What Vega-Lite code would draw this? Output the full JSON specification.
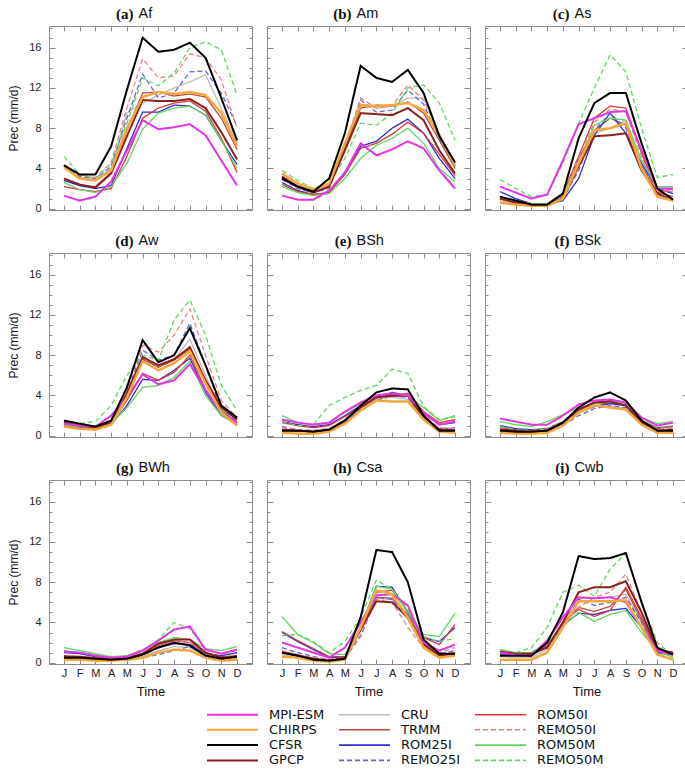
{
"$schema":"https://vega.github.io/schema/vega-lite/v6.json",
"background":"white",
"padding":{"left":7,"top":4,"right":0,"bottom":0},
"autosize":{"type":"pad"},
"config":{
 "view":{"stroke":"#8c8c8c","strokeWidth":1},
 "axis":{"domain":false,"grid":false,"tickColor":"#8c8c8c","tickWidth":1,"labelFont":"Liberation Sans","labelFontSize":11,"labelColor":"#222","titleFont":"Liberation Sans","titleFontSize":12,"titleFontWeight":"normal","titleColor":"#111"}
},
"datasets":{
"Af":[
{"s":"CRU","m":1,"v":4.2},{"s":"CRU","m":2,"v":3.1},{"s":"CRU","m":3,"v":2.9},{"s":"CRU","m":4,"v":4.0},{"s":"CRU","m":5,"v":9.5},{"s":"CRU","m":6,"v":10.5},{"s":"CRU","m":7,"v":11.3},{"s":"CRU","m":8,"v":12.0},{"s":"CRU","m":9,"v":12.6},{"s":"CRU","m":10,"v":13.3},{"s":"CRU","m":11,"v":10.0},{"s":"CRU","m":12,"v":6.5},
{"s":"TRMM","m":1,"v":3.0},{"s":"TRMM","m":2,"v":2.3},{"s":"TRMM","m":3,"v":2.2},{"s":"TRMM","m":4,"v":3.6},{"s":"TRMM","m":5,"v":7.8},{"s":"TRMM","m":6,"v":11.5},{"s":"TRMM","m":7,"v":11.6},{"s":"TRMM","m":8,"v":11.2},{"s":"TRMM","m":9,"v":11.4},{"s":"TRMM","m":10,"v":11.1},{"s":"TRMM","m":11,"v":9.0},{"s":"TRMM","m":12,"v":5.9},
{"s":"ROM25I","m":1,"v":2.8},{"s":"ROM25I","m":2,"v":2.3},{"s":"ROM25I","m":3,"v":2.0},{"s":"ROM25I","m":4,"v":2.3},{"s":"ROM25I","m":5,"v":6.0},{"s":"ROM25I","m":6,"v":9.6},{"s":"ROM25I","m":7,"v":9.6},{"s":"ROM25I","m":8,"v":10.3},{"s":"ROM25I","m":9,"v":10.2},{"s":"ROM25I","m":10,"v":9.3},{"s":"ROM25I","m":11,"v":6.8},{"s":"ROM25I","m":12,"v":4.4},
{"s":"REMO25I","m":1,"v":4.3},{"s":"REMO25I","m":2,"v":3.2},{"s":"REMO25I","m":3,"v":3.0},{"s":"REMO25I","m":4,"v":4.2},{"s":"REMO25I","m":5,"v":9.0},{"s":"REMO25I","m":6,"v":13.4},{"s":"REMO25I","m":7,"v":11.0},{"s":"REMO25I","m":8,"v":11.5},{"s":"REMO25I","m":9,"v":13.6},{"s":"REMO25I","m":10,"v":13.7},{"s":"REMO25I","m":11,"v":11.5},{"s":"REMO25I","m":12,"v":8.2},
{"s":"ROM50I","m":1,"v":2.2},{"s":"ROM50I","m":2,"v":1.9},{"s":"ROM50I","m":3,"v":1.7},{"s":"ROM50I","m":4,"v":2.0},{"s":"ROM50I","m":5,"v":5.2},{"s":"ROM50I","m":6,"v":9.0},{"s":"ROM50I","m":7,"v":10.0},{"s":"ROM50I","m":8,"v":10.5},{"s":"ROM50I","m":9,"v":10.7},{"s":"ROM50I","m":10,"v":9.7},{"s":"ROM50I","m":11,"v":7.0},{"s":"ROM50I","m":12,"v":3.6},
{"s":"REMO50I","m":1,"v":4.4},{"s":"REMO50I","m":2,"v":3.3},{"s":"REMO50I","m":3,"v":3.1},{"s":"REMO50I","m":4,"v":4.6},{"s":"REMO50I","m":5,"v":10.0},{"s":"REMO50I","m":6,"v":14.9},{"s":"REMO50I","m":7,"v":13.0},{"s":"REMO50I","m":8,"v":13.2},{"s":"REMO50I","m":9,"v":15.4},{"s":"REMO50I","m":10,"v":15.0},{"s":"REMO50I","m":11,"v":12.8},{"s":"REMO50I","m":12,"v":8.0},
{"s":"ROM50M","m":1,"v":2.6},{"s":"ROM50M","m":2,"v":1.9},{"s":"ROM50M","m":3,"v":1.6},{"s":"ROM50M","m":4,"v":2.2},{"s":"ROM50M","m":5,"v":4.5},{"s":"ROM50M","m":6,"v":7.9},{"s":"ROM50M","m":7,"v":9.5},{"s":"ROM50M","m":8,"v":10.0},{"s":"ROM50M","m":9,"v":10.2},{"s":"ROM50M","m":10,"v":9.3},{"s":"ROM50M","m":11,"v":6.8},{"s":"ROM50M","m":12,"v":4.0},
{"s":"REMO50M","m":1,"v":5.2},{"s":"REMO50M","m":2,"v":3.4},{"s":"REMO50M","m":3,"v":3.0},{"s":"REMO50M","m":4,"v":4.5},{"s":"REMO50M","m":5,"v":8.5},{"s":"REMO50M","m":6,"v":13.0},{"s":"REMO50M","m":7,"v":12.2},{"s":"REMO50M","m":8,"v":13.5},{"s":"REMO50M","m":9,"v":16.0},{"s":"REMO50M","m":10,"v":16.6},{"s":"REMO50M","m":11,"v":15.8},{"s":"REMO50M","m":12,"v":11.3},
{"s":"GPCP","m":1,"v":3.0},{"s":"GPCP","m":2,"v":2.4},{"s":"GPCP","m":3,"v":2.1},{"s":"GPCP","m":4,"v":3.5},{"s":"GPCP","m":5,"v":7.2},{"s":"GPCP","m":6,"v":10.8},{"s":"GPCP","m":7,"v":10.7},{"s":"GPCP","m":8,"v":10.7},{"s":"GPCP","m":9,"v":10.9},{"s":"GPCP","m":10,"v":10.0},{"s":"GPCP","m":11,"v":7.6},{"s":"GPCP","m":12,"v":4.9},
{"s":"MPI-ESM","m":1,"v":1.3},{"s":"MPI-ESM","m":2,"v":0.8},{"s":"MPI-ESM","m":3,"v":1.2},{"s":"MPI-ESM","m":4,"v":2.7},{"s":"MPI-ESM","m":5,"v":5.8},{"s":"MPI-ESM","m":6,"v":8.8},{"s":"MPI-ESM","m":7,"v":7.9},{"s":"MPI-ESM","m":8,"v":8.1},{"s":"MPI-ESM","m":9,"v":8.4},{"s":"MPI-ESM","m":10,"v":7.3},{"s":"MPI-ESM","m":11,"v":4.8},{"s":"MPI-ESM","m":12,"v":2.3},
{"s":"CHIRPS","m":1,"v":4.1},{"s":"CHIRPS","m":2,"v":3.0},{"s":"CHIRPS","m":3,"v":2.8},{"s":"CHIRPS","m":4,"v":3.8},{"s":"CHIRPS","m":5,"v":8.0},{"s":"CHIRPS","m":6,"v":11.1},{"s":"CHIRPS","m":7,"v":11.6},{"s":"CHIRPS","m":8,"v":11.4},{"s":"CHIRPS","m":9,"v":11.6},{"s":"CHIRPS","m":10,"v":11.3},{"s":"CHIRPS","m":11,"v":9.5},{"s":"CHIRPS","m":12,"v":6.2},
{"s":"CFSR","m":1,"v":4.3},{"s":"CFSR","m":2,"v":3.4},{"s":"CFSR","m":3,"v":3.4},{"s":"CFSR","m":4,"v":6.2},{"s":"CFSR","m":5,"v":11.8},{"s":"CFSR","m":6,"v":17.0},{"s":"CFSR","m":7,"v":15.6},{"s":"CFSR","m":8,"v":15.8},{"s":"CFSR","m":9,"v":16.5},{"s":"CFSR","m":10,"v":15.0},{"s":"CFSR","m":11,"v":11.0},{"s":"CFSR","m":12,"v":6.8}
],
"Am":[
{"s":"CRU","m":1,"v":3.2},{"s":"CRU","m":2,"v":2.3},{"s":"CRU","m":3,"v":1.8},{"s":"CRU","m":4,"v":2.4},{"s":"CRU","m":5,"v":6.4},{"s":"CRU","m":6,"v":10.4},{"s":"CRU","m":7,"v":10.0},{"s":"CRU","m":8,"v":10.2},{"s":"CRU","m":9,"v":11.0},{"s":"CRU","m":10,"v":11.0},{"s":"CRU","m":11,"v":7.5},{"s":"CRU","m":12,"v":4.2},
{"s":"TRMM","m":1,"v":3.0},{"s":"TRMM","m":2,"v":2.1},{"s":"TRMM","m":3,"v":1.6},{"s":"TRMM","m":4,"v":2.2},{"s":"TRMM","m":5,"v":6.0},{"s":"TRMM","m":6,"v":10.0},{"s":"TRMM","m":7,"v":10.3},{"s":"TRMM","m":8,"v":10.2},{"s":"TRMM","m":9,"v":10.6},{"s":"TRMM","m":10,"v":9.5},{"s":"TRMM","m":11,"v":6.8},{"s":"TRMM","m":12,"v":4.0},
{"s":"ROM25I","m":1,"v":2.6},{"s":"ROM25I","m":2,"v":1.8},{"s":"ROM25I","m":3,"v":1.4},{"s":"ROM25I","m":4,"v":1.6},{"s":"ROM25I","m":5,"v":3.6},{"s":"ROM25I","m":6,"v":6.2},{"s":"ROM25I","m":7,"v":6.7},{"s":"ROM25I","m":8,"v":8.0},{"s":"ROM25I","m":9,"v":8.9},{"s":"ROM25I","m":10,"v":7.5},{"s":"ROM25I","m":11,"v":5.0},{"s":"ROM25I","m":12,"v":3.0},
{"s":"REMO25I","m":1,"v":2.9},{"s":"REMO25I","m":2,"v":2.0},{"s":"REMO25I","m":3,"v":1.6},{"s":"REMO25I","m":4,"v":2.0},{"s":"REMO25I","m":5,"v":6.0},{"s":"REMO25I","m":6,"v":10.8},{"s":"REMO25I","m":7,"v":9.6},{"s":"REMO25I","m":8,"v":9.8},{"s":"REMO25I","m":9,"v":11.8},{"s":"REMO25I","m":10,"v":10.4},{"s":"REMO25I","m":11,"v":7.0},{"s":"REMO25I","m":12,"v":4.2},
{"s":"ROM50I","m":1,"v":2.4},{"s":"ROM50I","m":2,"v":1.7},{"s":"ROM50I","m":3,"v":1.4},{"s":"ROM50I","m":4,"v":1.6},{"s":"ROM50I","m":5,"v":3.4},{"s":"ROM50I","m":6,"v":6.0},{"s":"ROM50I","m":7,"v":6.5},{"s":"ROM50I","m":8,"v":7.4},{"s":"ROM50I","m":9,"v":8.6},{"s":"ROM50I","m":10,"v":7.5},{"s":"ROM50I","m":11,"v":5.4},{"s":"ROM50I","m":12,"v":3.3},
{"s":"REMO50I","m":1,"v":3.0},{"s":"REMO50I","m":2,"v":2.1},{"s":"REMO50I","m":3,"v":1.7},{"s":"REMO50I","m":4,"v":2.2},{"s":"REMO50I","m":5,"v":6.3},{"s":"REMO50I","m":6,"v":11.0},{"s":"REMO50I","m":7,"v":10.0},{"s":"REMO50I","m":8,"v":10.2},{"s":"REMO50I","m":9,"v":12.3},{"s":"REMO50I","m":10,"v":10.8},{"s":"REMO50I","m":11,"v":7.4},{"s":"REMO50I","m":12,"v":4.4},
{"s":"ROM50M","m":1,"v":2.2},{"s":"ROM50M","m":2,"v":1.6},{"s":"ROM50M","m":3,"v":1.3},{"s":"ROM50M","m":4,"v":1.5},{"s":"ROM50M","m":5,"v":3.0},{"s":"ROM50M","m":6,"v":5.0},{"s":"ROM50M","m":7,"v":6.3},{"s":"ROM50M","m":8,"v":7.0},{"s":"ROM50M","m":9,"v":8.0},{"s":"ROM50M","m":10,"v":6.5},{"s":"ROM50M","m":11,"v":4.0},{"s":"ROM50M","m":12,"v":2.7},
{"s":"REMO50M","m":1,"v":3.8},{"s":"REMO50M","m":2,"v":2.8},{"s":"REMO50M","m":3,"v":2.0},{"s":"REMO50M","m":4,"v":2.5},{"s":"REMO50M","m":5,"v":5.0},{"s":"REMO50M","m":6,"v":8.5},{"s":"REMO50M","m":7,"v":8.3},{"s":"REMO50M","m":8,"v":9.5},{"s":"REMO50M","m":9,"v":12.0},{"s":"REMO50M","m":10,"v":12.3},{"s":"REMO50M","m":11,"v":10.5},{"s":"REMO50M","m":12,"v":6.8},
{"s":"GPCP","m":1,"v":3.2},{"s":"GPCP","m":2,"v":2.2},{"s":"GPCP","m":3,"v":1.6},{"s":"GPCP","m":4,"v":2.2},{"s":"GPCP","m":5,"v":5.8},{"s":"GPCP","m":6,"v":9.5},{"s":"GPCP","m":7,"v":9.4},{"s":"GPCP","m":8,"v":9.3},{"s":"GPCP","m":9,"v":10.0},{"s":"GPCP","m":10,"v":8.8},{"s":"GPCP","m":11,"v":5.8},{"s":"GPCP","m":12,"v":3.5},
{"s":"MPI-ESM","m":1,"v":1.3},{"s":"MPI-ESM","m":2,"v":0.9},{"s":"MPI-ESM","m":3,"v":0.9},{"s":"MPI-ESM","m":4,"v":1.8},{"s":"MPI-ESM","m":5,"v":3.6},{"s":"MPI-ESM","m":6,"v":6.5},{"s":"MPI-ESM","m":7,"v":5.3},{"s":"MPI-ESM","m":8,"v":5.9},{"s":"MPI-ESM","m":9,"v":6.7},{"s":"MPI-ESM","m":10,"v":6.0},{"s":"MPI-ESM","m":11,"v":3.8},{"s":"MPI-ESM","m":12,"v":2.0},
{"s":"CHIRPS","m":1,"v":3.5},{"s":"CHIRPS","m":2,"v":2.5},{"s":"CHIRPS","m":3,"v":1.9},{"s":"CHIRPS","m":4,"v":2.5},{"s":"CHIRPS","m":5,"v":6.5},{"s":"CHIRPS","m":6,"v":10.3},{"s":"CHIRPS","m":7,"v":10.2},{"s":"CHIRPS","m":8,"v":10.3},{"s":"CHIRPS","m":9,"v":10.5},{"s":"CHIRPS","m":10,"v":9.8},{"s":"CHIRPS","m":11,"v":7.3},{"s":"CHIRPS","m":12,"v":4.3},
{"s":"CFSR","m":1,"v":3.0},{"s":"CFSR","m":2,"v":2.2},{"s":"CFSR","m":3,"v":1.7},{"s":"CFSR","m":4,"v":3.0},{"s":"CFSR","m":5,"v":7.5},{"s":"CFSR","m":6,"v":14.2},{"s":"CFSR","m":7,"v":13.0},{"s":"CFSR","m":8,"v":12.6},{"s":"CFSR","m":9,"v":13.8},{"s":"CFSR","m":10,"v":11.5},{"s":"CFSR","m":11,"v":7.2},{"s":"CFSR","m":12,"v":4.6}
],
"As":[
{"s":"CRU","m":1,"v":0.8},{"s":"CRU","m":2,"v":0.5},{"s":"CRU","m":3,"v":0.4},{"s":"CRU","m":4,"v":0.4},{"s":"CRU","m":5,"v":1.2},{"s":"CRU","m":6,"v":4.5},{"s":"CRU","m":7,"v":7.5},{"s":"CRU","m":8,"v":8.0},{"s":"CRU","m":9,"v":8.8},{"s":"CRU","m":10,"v":4.2},{"s":"CRU","m":11,"v":1.5},{"s":"CRU","m":12,"v":0.9},
{"s":"TRMM","m":1,"v":1.0},{"s":"TRMM","m":2,"v":0.6},{"s":"TRMM","m":3,"v":0.4},{"s":"TRMM","m":4,"v":0.4},{"s":"TRMM","m":5,"v":1.3},{"s":"TRMM","m":6,"v":5.0},{"s":"TRMM","m":7,"v":7.8},{"s":"TRMM","m":8,"v":9.0},{"s":"TRMM","m":9,"v":8.3},{"s":"TRMM","m":10,"v":4.2},{"s":"TRMM","m":11,"v":1.6},{"s":"TRMM","m":12,"v":1.2},
{"s":"ROM25I","m":1,"v":1.7},{"s":"ROM25I","m":2,"v":1.0},{"s":"ROM25I","m":3,"v":0.5},{"s":"ROM25I","m":4,"v":0.4},{"s":"ROM25I","m":5,"v":0.8},{"s":"ROM25I","m":6,"v":3.0},{"s":"ROM25I","m":7,"v":7.3},{"s":"ROM25I","m":8,"v":9.5},{"s":"ROM25I","m":9,"v":7.5},{"s":"ROM25I","m":10,"v":4.5},{"s":"ROM25I","m":11,"v":2.0},{"s":"ROM25I","m":12,"v":1.5},
{"s":"REMO25I","m":1,"v":1.2},{"s":"REMO25I","m":2,"v":0.8},{"s":"REMO25I","m":3,"v":0.5},{"s":"REMO25I","m":4,"v":0.4},{"s":"REMO25I","m":5,"v":1.0},{"s":"REMO25I","m":6,"v":3.8},{"s":"REMO25I","m":7,"v":7.8},{"s":"REMO25I","m":8,"v":9.5},{"s":"REMO25I","m":9,"v":8.0},{"s":"REMO25I","m":10,"v":4.3},{"s":"REMO25I","m":11,"v":2.0},{"s":"REMO25I","m":12,"v":1.6},
{"s":"ROM50I","m":1,"v":1.1},{"s":"ROM50I","m":2,"v":0.7},{"s":"ROM50I","m":3,"v":0.5},{"s":"ROM50I","m":4,"v":0.5},{"s":"ROM50I","m":5,"v":1.5},{"s":"ROM50I","m":6,"v":5.2},{"s":"ROM50I","m":7,"v":9.0},{"s":"ROM50I","m":8,"v":10.2},{"s":"ROM50I","m":9,"v":10.0},{"s":"ROM50I","m":10,"v":5.5},{"s":"ROM50I","m":11,"v":1.6},{"s":"ROM50I","m":12,"v":2.0},
{"s":"REMO50I","m":1,"v":1.0},{"s":"REMO50I","m":2,"v":0.7},{"s":"REMO50I","m":3,"v":0.5},{"s":"REMO50I","m":4,"v":0.5},{"s":"REMO50I","m":5,"v":1.5},{"s":"REMO50I","m":6,"v":5.0},{"s":"REMO50I","m":7,"v":8.6},{"s":"REMO50I","m":8,"v":9.9},{"s":"REMO50I","m":9,"v":9.6},{"s":"REMO50I","m":10,"v":5.2},{"s":"REMO50I","m":11,"v":1.7},{"s":"REMO50I","m":12,"v":1.8},
{"s":"ROM50M","m":1,"v":1.0},{"s":"ROM50M","m":2,"v":0.7},{"s":"ROM50M","m":3,"v":0.5},{"s":"ROM50M","m":4,"v":0.5},{"s":"ROM50M","m":5,"v":1.4},{"s":"ROM50M","m":6,"v":4.5},{"s":"ROM50M","m":7,"v":8.3},{"s":"ROM50M","m":8,"v":9.0},{"s":"ROM50M","m":9,"v":8.8},{"s":"ROM50M","m":10,"v":4.8},{"s":"ROM50M","m":11,"v":2.2},{"s":"ROM50M","m":12,"v":2.2},
{"s":"REMO50M","m":1,"v":2.9},{"s":"REMO50M","m":2,"v":2.0},{"s":"REMO50M","m":3,"v":1.2},{"s":"REMO50M","m":4,"v":1.4},{"s":"REMO50M","m":5,"v":4.5},{"s":"REMO50M","m":6,"v":8.5},{"s":"REMO50M","m":7,"v":12.0},{"s":"REMO50M","m":8,"v":15.3},{"s":"REMO50M","m":9,"v":13.6},{"s":"REMO50M","m":10,"v":8.0},{"s":"REMO50M","m":11,"v":3.1},{"s":"REMO50M","m":12,"v":3.4},
{"s":"GPCP","m":1,"v":1.0},{"s":"GPCP","m":2,"v":0.6},{"s":"GPCP","m":3,"v":0.4},{"s":"GPCP","m":4,"v":0.4},{"s":"GPCP","m":5,"v":1.0},{"s":"GPCP","m":6,"v":4.2},{"s":"GPCP","m":7,"v":7.2},{"s":"GPCP","m":8,"v":7.3},{"s":"GPCP","m":9,"v":7.5},{"s":"GPCP","m":10,"v":3.8},{"s":"GPCP","m":11,"v":1.5},{"s":"GPCP","m":12,"v":0.8},
{"s":"MPI-ESM","m":1,"v":2.2},{"s":"MPI-ESM","m":2,"v":1.6},{"s":"MPI-ESM","m":3,"v":1.0},{"s":"MPI-ESM","m":4,"v":1.4},{"s":"MPI-ESM","m":5,"v":4.8},{"s":"MPI-ESM","m":6,"v":8.4},{"s":"MPI-ESM","m":7,"v":9.0},{"s":"MPI-ESM","m":8,"v":9.6},{"s":"MPI-ESM","m":9,"v":9.7},{"s":"MPI-ESM","m":10,"v":5.8},{"s":"MPI-ESM","m":11,"v":2.0},{"s":"MPI-ESM","m":12,"v":2.0},
{"s":"CHIRPS","m":1,"v":0.6},{"s":"CHIRPS","m":2,"v":0.4},{"s":"CHIRPS","m":3,"v":0.3},{"s":"CHIRPS","m":4,"v":0.3},{"s":"CHIRPS","m":5,"v":1.0},{"s":"CHIRPS","m":6,"v":4.5},{"s":"CHIRPS","m":7,"v":7.8},{"s":"CHIRPS","m":8,"v":8.0},{"s":"CHIRPS","m":9,"v":8.5},{"s":"CHIRPS","m":10,"v":4.0},{"s":"CHIRPS","m":11,"v":1.2},{"s":"CHIRPS","m":12,"v":0.8},
{"s":"CFSR","m":1,"v":1.2},{"s":"CFSR","m":2,"v":0.8},{"s":"CFSR","m":3,"v":0.4},{"s":"CFSR","m":4,"v":0.4},{"s":"CFSR","m":5,"v":1.5},{"s":"CFSR","m":6,"v":7.0},{"s":"CFSR","m":7,"v":10.5},{"s":"CFSR","m":8,"v":11.5},{"s":"CFSR","m":9,"v":11.5},{"s":"CFSR","m":10,"v":6.5},{"s":"CFSR","m":11,"v":2.0},{"s":"CFSR","m":12,"v":0.9}
],
"Aw":[
{"s":"CRU","m":1,"v":1.1},{"s":"CRU","m":2,"v":0.9},{"s":"CRU","m":3,"v":0.8},{"s":"CRU","m":4,"v":1.2},{"s":"CRU","m":5,"v":4.2},{"s":"CRU","m":6,"v":8.0},{"s":"CRU","m":7,"v":6.8},{"s":"CRU","m":8,"v":7.6},{"s":"CRU","m":9,"v":9.6},{"s":"CRU","m":10,"v":6.0},{"s":"CRU","m":11,"v":2.5},{"s":"CRU","m":12,"v":1.3},
{"s":"TRMM","m":1,"v":1.1},{"s":"TRMM","m":2,"v":0.8},{"s":"TRMM","m":3,"v":0.7},{"s":"TRMM","m":4,"v":1.2},{"s":"TRMM","m":5,"v":4.0},{"s":"TRMM","m":6,"v":7.6},{"s":"TRMM","m":7,"v":6.8},{"s":"TRMM","m":8,"v":7.5},{"s":"TRMM","m":9,"v":8.6},{"s":"TRMM","m":10,"v":5.5},{"s":"TRMM","m":11,"v":2.5},{"s":"TRMM","m":12,"v":1.3},
{"s":"ROM25I","m":1,"v":1.0},{"s":"ROM25I","m":2,"v":0.8},{"s":"ROM25I","m":3,"v":0.7},{"s":"ROM25I","m":4,"v":1.1},{"s":"ROM25I","m":5,"v":3.0},{"s":"ROM25I","m":6,"v":5.6},{"s":"ROM25I","m":7,"v":5.5},{"s":"ROM25I","m":8,"v":6.5},{"s":"ROM25I","m":9,"v":7.7},{"s":"ROM25I","m":10,"v":4.3},{"s":"ROM25I","m":11,"v":2.0},{"s":"ROM25I","m":12,"v":1.2},
{"s":"REMO25I","m":1,"v":1.2},{"s":"REMO25I","m":2,"v":0.9},{"s":"REMO25I","m":3,"v":0.8},{"s":"REMO25I","m":4,"v":1.3},{"s":"REMO25I","m":5,"v":4.3},{"s":"REMO25I","m":6,"v":8.5},{"s":"REMO25I","m":7,"v":7.5},{"s":"REMO25I","m":8,"v":8.0},{"s":"REMO25I","m":9,"v":11.2},{"s":"REMO25I","m":10,"v":7.0},{"s":"REMO25I","m":11,"v":2.5},{"s":"REMO25I","m":12,"v":1.5},
{"s":"ROM50I","m":1,"v":1.1},{"s":"ROM50I","m":2,"v":0.9},{"s":"ROM50I","m":3,"v":0.8},{"s":"ROM50I","m":4,"v":1.2},{"s":"ROM50I","m":5,"v":3.5},{"s":"ROM50I","m":6,"v":6.2},{"s":"ROM50I","m":7,"v":5.5},{"s":"ROM50I","m":8,"v":6.3},{"s":"ROM50I","m":9,"v":8.0},{"s":"ROM50I","m":10,"v":4.6},{"s":"ROM50I","m":11,"v":2.2},{"s":"ROM50I","m":12,"v":1.3},
{"s":"REMO50I","m":1,"v":1.2},{"s":"REMO50I","m":2,"v":1.0},{"s":"REMO50I","m":3,"v":0.9},{"s":"REMO50I","m":4,"v":1.5},{"s":"REMO50I","m":5,"v":4.5},{"s":"REMO50I","m":6,"v":9.0},{"s":"REMO50I","m":7,"v":8.3},{"s":"REMO50I","m":8,"v":10.0},{"s":"REMO50I","m":9,"v":12.6},{"s":"REMO50I","m":10,"v":8.0},{"s":"REMO50I","m":11,"v":3.5},{"s":"REMO50I","m":12,"v":1.8},
{"s":"ROM50M","m":1,"v":1.1},{"s":"ROM50M","m":2,"v":0.9},{"s":"ROM50M","m":3,"v":0.8},{"s":"ROM50M","m":4,"v":1.2},{"s":"ROM50M","m":5,"v":2.8},{"s":"ROM50M","m":6,"v":4.8},{"s":"ROM50M","m":7,"v":5.0},{"s":"ROM50M","m":8,"v":5.8},{"s":"ROM50M","m":9,"v":7.4},{"s":"ROM50M","m":10,"v":4.0},{"s":"ROM50M","m":11,"v":2.0},{"s":"ROM50M","m":12,"v":1.2},
{"s":"REMO50M","m":1,"v":1.4},{"s":"REMO50M","m":2,"v":1.2},{"s":"REMO50M","m":3,"v":1.4},{"s":"REMO50M","m":4,"v":3.0},{"s":"REMO50M","m":5,"v":6.0},{"s":"REMO50M","m":6,"v":8.0},{"s":"REMO50M","m":7,"v":7.5},{"s":"REMO50M","m":8,"v":11.5},{"s":"REMO50M","m":9,"v":13.5},{"s":"REMO50M","m":10,"v":10.0},{"s":"REMO50M","m":11,"v":5.0},{"s":"REMO50M","m":12,"v":2.5},
{"s":"GPCP","m":1,"v":1.3},{"s":"GPCP","m":2,"v":1.0},{"s":"GPCP","m":3,"v":0.8},{"s":"GPCP","m":4,"v":1.3},{"s":"GPCP","m":5,"v":4.2},{"s":"GPCP","m":6,"v":7.8},{"s":"GPCP","m":7,"v":7.0},{"s":"GPCP","m":8,"v":7.6},{"s":"GPCP","m":9,"v":8.8},{"s":"GPCP","m":10,"v":5.5},{"s":"GPCP","m":11,"v":2.8},{"s":"GPCP","m":12,"v":1.6},
{"s":"MPI-ESM","m":1,"v":1.2},{"s":"MPI-ESM","m":2,"v":1.0},{"s":"MPI-ESM","m":3,"v":0.9},{"s":"MPI-ESM","m":4,"v":2.0},{"s":"MPI-ESM","m":5,"v":3.8},{"s":"MPI-ESM","m":6,"v":6.1},{"s":"MPI-ESM","m":7,"v":5.1},{"s":"MPI-ESM","m":8,"v":5.5},{"s":"MPI-ESM","m":9,"v":7.1},{"s":"MPI-ESM","m":10,"v":4.5},{"s":"MPI-ESM","m":11,"v":2.3},{"s":"MPI-ESM","m":12,"v":1.3},
{"s":"CHIRPS","m":1,"v":0.9},{"s":"CHIRPS","m":2,"v":0.7},{"s":"CHIRPS","m":3,"v":0.6},{"s":"CHIRPS","m":4,"v":1.1},{"s":"CHIRPS","m":5,"v":3.8},{"s":"CHIRPS","m":6,"v":7.4},{"s":"CHIRPS","m":7,"v":6.5},{"s":"CHIRPS","m":8,"v":7.2},{"s":"CHIRPS","m":9,"v":8.4},{"s":"CHIRPS","m":10,"v":5.2},{"s":"CHIRPS","m":11,"v":2.3},{"s":"CHIRPS","m":12,"v":1.0},
{"s":"CFSR","m":1,"v":1.5},{"s":"CFSR","m":2,"v":1.2},{"s":"CFSR","m":3,"v":0.9},{"s":"CFSR","m":4,"v":1.5},{"s":"CFSR","m":5,"v":4.8},{"s":"CFSR","m":6,"v":9.5},{"s":"CFSR","m":7,"v":7.3},{"s":"CFSR","m":8,"v":8.0},{"s":"CFSR","m":9,"v":10.7},{"s":"CFSR","m":10,"v":7.0},{"s":"CFSR","m":11,"v":3.0},{"s":"CFSR","m":12,"v":1.8}
],
"BSh":[
{"s":"CRU","m":1,"v":0.5},{"s":"CRU","m":2,"v":0.4},{"s":"CRU","m":3,"v":0.4},{"s":"CRU","m":4,"v":0.6},{"s":"CRU","m":5,"v":1.4},{"s":"CRU","m":6,"v":2.8},{"s":"CRU","m":7,"v":3.7},{"s":"CRU","m":8,"v":3.8},{"s":"CRU","m":9,"v":3.6},{"s":"CRU","m":10,"v":1.7},{"s":"CRU","m":11,"v":0.5},{"s":"CRU","m":12,"v":0.5},
{"s":"TRMM","m":1,"v":0.6},{"s":"TRMM","m":2,"v":0.5},{"s":"TRMM","m":3,"v":0.4},{"s":"TRMM","m":4,"v":0.6},{"s":"TRMM","m":5,"v":1.5},{"s":"TRMM","m":6,"v":2.8},{"s":"TRMM","m":7,"v":3.9},{"s":"TRMM","m":8,"v":3.9},{"s":"TRMM","m":9,"v":3.9},{"s":"TRMM","m":10,"v":1.9},{"s":"TRMM","m":11,"v":0.7},{"s":"TRMM","m":12,"v":0.6},
{"s":"ROM25I","m":1,"v":1.4},{"s":"ROM25I","m":2,"v":1.1},{"s":"ROM25I","m":3,"v":0.9},{"s":"ROM25I","m":4,"v":1.1},{"s":"ROM25I","m":5,"v":2.0},{"s":"ROM25I","m":6,"v":3.0},{"s":"ROM25I","m":7,"v":3.8},{"s":"ROM25I","m":8,"v":4.3},{"s":"ROM25I","m":9,"v":4.0},{"s":"ROM25I","m":10,"v":2.2},{"s":"ROM25I","m":11,"v":1.1},{"s":"ROM25I","m":12,"v":1.3},
{"s":"REMO25I","m":1,"v":0.9},{"s":"REMO25I","m":2,"v":0.6},{"s":"REMO25I","m":3,"v":0.5},{"s":"REMO25I","m":4,"v":0.7},{"s":"REMO25I","m":5,"v":1.4},{"s":"REMO25I","m":6,"v":2.6},{"s":"REMO25I","m":7,"v":3.5},{"s":"REMO25I","m":8,"v":4.0},{"s":"REMO25I","m":9,"v":3.8},{"s":"REMO25I","m":10,"v":1.8},{"s":"REMO25I","m":11,"v":0.7},{"s":"REMO25I","m":12,"v":0.8},
{"s":"ROM50I","m":1,"v":1.3},{"s":"ROM50I","m":2,"v":1.0},{"s":"ROM50I","m":3,"v":0.8},{"s":"ROM50I","m":4,"v":1.0},{"s":"ROM50I","m":5,"v":1.9},{"s":"ROM50I","m":6,"v":2.9},{"s":"ROM50I","m":7,"v":3.9},{"s":"ROM50I","m":8,"v":4.1},{"s":"ROM50I","m":9,"v":4.2},{"s":"ROM50I","m":10,"v":2.4},{"s":"ROM50I","m":11,"v":1.3},{"s":"ROM50I","m":12,"v":1.6},
{"s":"REMO50I","m":1,"v":0.8},{"s":"REMO50I","m":2,"v":0.6},{"s":"REMO50I","m":3,"v":0.5},{"s":"REMO50I","m":4,"v":0.7},{"s":"REMO50I","m":5,"v":1.6},{"s":"REMO50I","m":6,"v":2.8},{"s":"REMO50I","m":7,"v":3.8},{"s":"REMO50I","m":8,"v":4.1},{"s":"REMO50I","m":9,"v":4.2},{"s":"REMO50I","m":10,"v":2.0},{"s":"REMO50I","m":11,"v":0.8},{"s":"REMO50I","m":12,"v":0.7},
{"s":"ROM50M","m":1,"v":2.0},{"s":"ROM50M","m":2,"v":1.3},{"s":"ROM50M","m":3,"v":1.1},{"s":"ROM50M","m":4,"v":1.3},{"s":"ROM50M","m":5,"v":2.3},{"s":"ROM50M","m":6,"v":3.2},{"s":"ROM50M","m":7,"v":4.0},{"s":"ROM50M","m":8,"v":4.2},{"s":"ROM50M","m":9,"v":4.0},{"s":"ROM50M","m":10,"v":2.8},{"s":"ROM50M","m":11,"v":1.5},{"s":"ROM50M","m":12,"v":2.0},
{"s":"REMO50M","m":1,"v":1.4},{"s":"REMO50M","m":2,"v":1.0},{"s":"REMO50M","m":3,"v":1.1},{"s":"REMO50M","m":4,"v":3.0},{"s":"REMO50M","m":5,"v":3.8},{"s":"REMO50M","m":6,"v":4.5},{"s":"REMO50M","m":7,"v":5.0},{"s":"REMO50M","m":8,"v":6.6},{"s":"REMO50M","m":9,"v":6.2},{"s":"REMO50M","m":10,"v":2.9},{"s":"REMO50M","m":11,"v":1.6},{"s":"REMO50M","m":12,"v":1.9},
{"s":"GPCP","m":1,"v":0.6},{"s":"GPCP","m":2,"v":0.5},{"s":"GPCP","m":3,"v":0.4},{"s":"GPCP","m":4,"v":0.6},{"s":"GPCP","m":5,"v":1.5},{"s":"GPCP","m":6,"v":2.8},{"s":"GPCP","m":7,"v":3.8},{"s":"GPCP","m":8,"v":4.0},{"s":"GPCP","m":9,"v":4.0},{"s":"GPCP","m":10,"v":1.8},{"s":"GPCP","m":11,"v":0.6},{"s":"GPCP","m":12,"v":0.5},
{"s":"MPI-ESM","m":1,"v":1.6},{"s":"MPI-ESM","m":2,"v":1.3},{"s":"MPI-ESM","m":3,"v":1.1},{"s":"MPI-ESM","m":4,"v":1.3},{"s":"MPI-ESM","m":5,"v":2.4},{"s":"MPI-ESM","m":6,"v":3.3},{"s":"MPI-ESM","m":7,"v":4.0},{"s":"MPI-ESM","m":8,"v":4.2},{"s":"MPI-ESM","m":9,"v":4.0},{"s":"MPI-ESM","m":10,"v":2.3},{"s":"MPI-ESM","m":11,"v":1.1},{"s":"MPI-ESM","m":12,"v":1.4},
{"s":"CHIRPS","m":1,"v":0.3},{"s":"CHIRPS","m":2,"v":0.2},{"s":"CHIRPS","m":3,"v":0.2},{"s":"CHIRPS","m":4,"v":0.4},{"s":"CHIRPS","m":5,"v":1.2},{"s":"CHIRPS","m":6,"v":2.5},{"s":"CHIRPS","m":7,"v":3.5},{"s":"CHIRPS","m":8,"v":3.4},{"s":"CHIRPS","m":9,"v":3.4},{"s":"CHIRPS","m":10,"v":1.6},{"s":"CHIRPS","m":11,"v":0.4},{"s":"CHIRPS","m":12,"v":0.3},
{"s":"CFSR","m":1,"v":0.5},{"s":"CFSR","m":2,"v":0.5},{"s":"CFSR","m":3,"v":0.4},{"s":"CFSR","m":4,"v":0.6},{"s":"CFSR","m":5,"v":1.5},{"s":"CFSR","m":6,"v":3.0},{"s":"CFSR","m":7,"v":4.3},{"s":"CFSR","m":8,"v":4.7},{"s":"CFSR","m":9,"v":4.6},{"s":"CFSR","m":10,"v":2.0},{"s":"CFSR","m":11,"v":0.5},{"s":"CFSR","m":12,"v":0.5}
],
"BSk":[
{"s":"CRU","m":1,"v":0.4},{"s":"CRU","m":2,"v":0.3},{"s":"CRU","m":3,"v":0.3},{"s":"CRU","m":4,"v":0.4},{"s":"CRU","m":5,"v":1.1},{"s":"CRU","m":6,"v":2.4},{"s":"CRU","m":7,"v":3.0},{"s":"CRU","m":8,"v":2.9},{"s":"CRU","m":9,"v":2.7},{"s":"CRU","m":10,"v":1.2},{"s":"CRU","m":11,"v":0.4},{"s":"CRU","m":12,"v":0.4},
{"s":"TRMM","m":1,"v":0.5},{"s":"TRMM","m":2,"v":0.4},{"s":"TRMM","m":3,"v":0.4},{"s":"TRMM","m":4,"v":0.5},{"s":"TRMM","m":5,"v":1.2},{"s":"TRMM","m":6,"v":2.5},{"s":"TRMM","m":7,"v":3.2},{"s":"TRMM","m":8,"v":3.2},{"s":"TRMM","m":9,"v":3.0},{"s":"TRMM","m":10,"v":1.3},{"s":"TRMM","m":11,"v":0.5},{"s":"TRMM","m":12,"v":0.5},
{"s":"ROM25I","m":1,"v":1.0},{"s":"ROM25I","m":2,"v":0.7},{"s":"ROM25I","m":3,"v":0.6},{"s":"ROM25I","m":4,"v":0.7},{"s":"ROM25I","m":5,"v":1.3},{"s":"ROM25I","m":6,"v":2.3},{"s":"ROM25I","m":7,"v":2.9},{"s":"ROM25I","m":8,"v":3.2},{"s":"ROM25I","m":9,"v":3.0},{"s":"ROM25I","m":10,"v":1.4},{"s":"ROM25I","m":11,"v":0.8},{"s":"ROM25I","m":12,"v":0.9},
{"s":"REMO25I","m":1,"v":0.6},{"s":"REMO25I","m":2,"v":0.4},{"s":"REMO25I","m":3,"v":0.4},{"s":"REMO25I","m":4,"v":0.5},{"s":"REMO25I","m":5,"v":1.0},{"s":"REMO25I","m":6,"v":2.0},{"s":"REMO25I","m":7,"v":2.7},{"s":"REMO25I","m":8,"v":3.0},{"s":"REMO25I","m":9,"v":2.8},{"s":"REMO25I","m":10,"v":1.2},{"s":"REMO25I","m":11,"v":0.5},{"s":"REMO25I","m":12,"v":0.6},
{"s":"ROM50I","m":1,"v":0.8},{"s":"ROM50I","m":2,"v":0.6},{"s":"ROM50I","m":3,"v":0.5},{"s":"ROM50I","m":4,"v":0.7},{"s":"ROM50I","m":5,"v":1.4},{"s":"ROM50I","m":6,"v":2.6},{"s":"ROM50I","m":7,"v":3.3},{"s":"ROM50I","m":8,"v":3.5},{"s":"ROM50I","m":9,"v":3.2},{"s":"ROM50I","m":10,"v":1.5},{"s":"ROM50I","m":11,"v":0.7},{"s":"ROM50I","m":12,"v":0.9},
{"s":"REMO50I","m":1,"v":0.7},{"s":"REMO50I","m":2,"v":0.5},{"s":"REMO50I","m":3,"v":0.5},{"s":"REMO50I","m":4,"v":0.6},{"s":"REMO50I","m":5,"v":1.3},{"s":"REMO50I","m":6,"v":2.5},{"s":"REMO50I","m":7,"v":3.2},{"s":"REMO50I","m":8,"v":3.4},{"s":"REMO50I","m":9,"v":3.1},{"s":"REMO50I","m":10,"v":1.4},{"s":"REMO50I","m":11,"v":0.6},{"s":"REMO50I","m":12,"v":0.8},
{"s":"ROM50M","m":1,"v":1.4},{"s":"ROM50M","m":2,"v":1.1},{"s":"ROM50M","m":3,"v":0.9},{"s":"ROM50M","m":4,"v":1.4},{"s":"ROM50M","m":5,"v":2.1},{"s":"ROM50M","m":6,"v":2.8},{"s":"ROM50M","m":7,"v":3.2},{"s":"ROM50M","m":8,"v":3.4},{"s":"ROM50M","m":9,"v":3.2},{"s":"ROM50M","m":10,"v":1.8},{"s":"ROM50M","m":11,"v":1.2},{"s":"ROM50M","m":12,"v":1.4},
{"s":"REMO50M","m":1,"v":0.9},{"s":"REMO50M","m":2,"v":0.6},{"s":"REMO50M","m":3,"v":0.5},{"s":"REMO50M","m":4,"v":0.7},{"s":"REMO50M","m":5,"v":1.4},{"s":"REMO50M","m":6,"v":2.5},{"s":"REMO50M","m":7,"v":3.2},{"s":"REMO50M","m":8,"v":3.4},{"s":"REMO50M","m":9,"v":3.1},{"s":"REMO50M","m":10,"v":1.6},{"s":"REMO50M","m":11,"v":0.8},{"s":"REMO50M","m":12,"v":1.0},
{"s":"GPCP","m":1,"v":0.6},{"s":"GPCP","m":2,"v":0.5},{"s":"GPCP","m":3,"v":0.4},{"s":"GPCP","m":4,"v":0.5},{"s":"GPCP","m":5,"v":1.3},{"s":"GPCP","m":6,"v":2.6},{"s":"GPCP","m":7,"v":3.3},{"s":"GPCP","m":8,"v":3.4},{"s":"GPCP","m":9,"v":3.0},{"s":"GPCP","m":10,"v":1.3},{"s":"GPCP","m":11,"v":0.5},{"s":"GPCP","m":12,"v":0.6},
{"s":"MPI-ESM","m":1,"v":1.7},{"s":"MPI-ESM","m":2,"v":1.4},{"s":"MPI-ESM","m":3,"v":1.1},{"s":"MPI-ESM","m":4,"v":1.1},{"s":"MPI-ESM","m":5,"v":2.0},{"s":"MPI-ESM","m":6,"v":3.1},{"s":"MPI-ESM","m":7,"v":3.5},{"s":"MPI-ESM","m":8,"v":3.6},{"s":"MPI-ESM","m":9,"v":3.3},{"s":"MPI-ESM","m":10,"v":1.8},{"s":"MPI-ESM","m":11,"v":1.0},{"s":"MPI-ESM","m":12,"v":1.3},
{"s":"CHIRPS","m":1,"v":0.3},{"s":"CHIRPS","m":2,"v":0.2},{"s":"CHIRPS","m":3,"v":0.2},{"s":"CHIRPS","m":4,"v":0.3},{"s":"CHIRPS","m":5,"v":1.0},{"s":"CHIRPS","m":6,"v":2.3},{"s":"CHIRPS","m":7,"v":3.0},{"s":"CHIRPS","m":8,"v":2.8},{"s":"CHIRPS","m":9,"v":2.6},{"s":"CHIRPS","m":10,"v":1.1},{"s":"CHIRPS","m":11,"v":0.3},{"s":"CHIRPS","m":12,"v":0.3},
{"s":"CFSR","m":1,"v":0.5},{"s":"CFSR","m":2,"v":0.4},{"s":"CFSR","m":3,"v":0.4},{"s":"CFSR","m":4,"v":0.5},{"s":"CFSR","m":5,"v":1.3},{"s":"CFSR","m":6,"v":2.8},{"s":"CFSR","m":7,"v":3.8},{"s":"CFSR","m":8,"v":4.3},{"s":"CFSR","m":9,"v":3.5},{"s":"CFSR","m":10,"v":1.5},{"s":"CFSR","m":11,"v":0.5},{"s":"CFSR","m":12,"v":0.5}
],
"BWh":[
{"s":"CRU","m":1,"v":0.4},{"s":"CRU","m":2,"v":0.4},{"s":"CRU","m":3,"v":0.3},{"s":"CRU","m":4,"v":0.3},{"s":"CRU","m":5,"v":0.3},{"s":"CRU","m":6,"v":0.6},{"s":"CRU","m":7,"v":1.2},{"s":"CRU","m":8,"v":1.6},{"s":"CRU","m":9,"v":1.5},{"s":"CRU","m":10,"v":0.6},{"s":"CRU","m":11,"v":0.3},{"s":"CRU","m":12,"v":0.4},
{"s":"TRMM","m":1,"v":0.5},{"s":"TRMM","m":2,"v":0.5},{"s":"TRMM","m":3,"v":0.4},{"s":"TRMM","m":4,"v":0.3},{"s":"TRMM","m":5,"v":0.4},{"s":"TRMM","m":6,"v":0.8},{"s":"TRMM","m":7,"v":1.6},{"s":"TRMM","m":8,"v":1.9},{"s":"TRMM","m":9,"v":1.8},{"s":"TRMM","m":10,"v":0.8},{"s":"TRMM","m":11,"v":0.4},{"s":"TRMM","m":12,"v":0.5},
{"s":"ROM25I","m":1,"v":1.0},{"s":"ROM25I","m":2,"v":0.9},{"s":"ROM25I","m":3,"v":0.6},{"s":"ROM25I","m":4,"v":0.4},{"s":"ROM25I","m":5,"v":0.5},{"s":"ROM25I","m":6,"v":0.9},{"s":"ROM25I","m":7,"v":1.5},{"s":"ROM25I","m":8,"v":1.9},{"s":"ROM25I","m":9,"v":1.8},{"s":"ROM25I","m":10,"v":0.9},{"s":"ROM25I","m":11,"v":0.7},{"s":"ROM25I","m":12,"v":1.0},
{"s":"REMO25I","m":1,"v":0.6},{"s":"REMO25I","m":2,"v":0.5},{"s":"REMO25I","m":3,"v":0.4},{"s":"REMO25I","m":4,"v":0.3},{"s":"REMO25I","m":5,"v":0.4},{"s":"REMO25I","m":6,"v":0.5},{"s":"REMO25I","m":7,"v":0.8},{"s":"REMO25I","m":8,"v":1.2},{"s":"REMO25I","m":9,"v":1.6},{"s":"REMO25I","m":10,"v":0.8},{"s":"REMO25I","m":11,"v":0.5},{"s":"REMO25I","m":12,"v":0.6},
{"s":"ROM50I","m":1,"v":0.7},{"s":"ROM50I","m":2,"v":0.6},{"s":"ROM50I","m":3,"v":0.5},{"s":"ROM50I","m":4,"v":0.4},{"s":"ROM50I","m":5,"v":0.5},{"s":"ROM50I","m":6,"v":0.9},{"s":"ROM50I","m":7,"v":1.7},{"s":"ROM50I","m":8,"v":2.2},{"s":"ROM50I","m":9,"v":2.0},{"s":"ROM50I","m":10,"v":1.0},{"s":"ROM50I","m":11,"v":0.6},{"s":"ROM50I","m":12,"v":0.7},
{"s":"REMO50I","m":1,"v":0.6},{"s":"REMO50I","m":2,"v":0.6},{"s":"REMO50I","m":3,"v":0.4},{"s":"REMO50I","m":4,"v":0.3},{"s":"REMO50I","m":5,"v":0.4},{"s":"REMO50I","m":6,"v":0.9},{"s":"REMO50I","m":7,"v":1.8},{"s":"REMO50I","m":8,"v":2.2},{"s":"REMO50I","m":9,"v":2.0},{"s":"REMO50I","m":10,"v":0.9},{"s":"REMO50I","m":11,"v":0.5},{"s":"REMO50I","m":12,"v":0.6},
{"s":"ROM50M","m":1,"v":1.5},{"s":"ROM50M","m":2,"v":1.2},{"s":"ROM50M","m":3,"v":0.9},{"s":"ROM50M","m":4,"v":0.6},{"s":"ROM50M","m":5,"v":0.7},{"s":"ROM50M","m":6,"v":1.3},{"s":"ROM50M","m":7,"v":2.0},{"s":"ROM50M","m":8,"v":2.5},{"s":"ROM50M","m":9,"v":2.3},{"s":"ROM50M","m":10,"v":1.4},{"s":"ROM50M","m":11,"v":1.2},{"s":"ROM50M","m":12,"v":1.6},
{"s":"REMO50M","m":1,"v":1.2},{"s":"REMO50M","m":2,"v":1.0},{"s":"REMO50M","m":3,"v":0.8},{"s":"REMO50M","m":4,"v":0.5},{"s":"REMO50M","m":5,"v":0.6},{"s":"REMO50M","m":6,"v":1.2},{"s":"REMO50M","m":7,"v":2.3},{"s":"REMO50M","m":8,"v":4.0},{"s":"REMO50M","m":9,"v":3.4},{"s":"REMO50M","m":10,"v":1.3},{"s":"REMO50M","m":11,"v":0.9},{"s":"REMO50M","m":12,"v":1.2},
{"s":"GPCP","m":1,"v":0.6},{"s":"GPCP","m":2,"v":0.6},{"s":"GPCP","m":3,"v":0.4},{"s":"GPCP","m":4,"v":0.3},{"s":"GPCP","m":5,"v":0.4},{"s":"GPCP","m":6,"v":0.9},{"s":"GPCP","m":7,"v":1.9},{"s":"GPCP","m":8,"v":2.3},{"s":"GPCP","m":9,"v":2.3},{"s":"GPCP","m":10,"v":1.0},{"s":"GPCP","m":11,"v":0.5},{"s":"GPCP","m":12,"v":0.6},
{"s":"MPI-ESM","m":1,"v":1.1},{"s":"MPI-ESM","m":2,"v":1.0},{"s":"MPI-ESM","m":3,"v":0.7},{"s":"MPI-ESM","m":4,"v":0.5},{"s":"MPI-ESM","m":5,"v":0.6},{"s":"MPI-ESM","m":6,"v":1.2},{"s":"MPI-ESM","m":7,"v":2.2},{"s":"MPI-ESM","m":8,"v":3.3},{"s":"MPI-ESM","m":9,"v":3.6},{"s":"MPI-ESM","m":10,"v":1.3},{"s":"MPI-ESM","m":11,"v":0.9},{"s":"MPI-ESM","m":12,"v":1.3},
{"s":"CHIRPS","m":1,"v":0.3},{"s":"CHIRPS","m":2,"v":0.3},{"s":"CHIRPS","m":3,"v":0.2},{"s":"CHIRPS","m":4,"v":0.2},{"s":"CHIRPS","m":5,"v":0.3},{"s":"CHIRPS","m":6,"v":0.5},{"s":"CHIRPS","m":7,"v":1.0},{"s":"CHIRPS","m":8,"v":1.3},{"s":"CHIRPS","m":9,"v":1.2},{"s":"CHIRPS","m":10,"v":0.5},{"s":"CHIRPS","m":11,"v":0.2},{"s":"CHIRPS","m":12,"v":0.3},
{"s":"CFSR","m":1,"v":0.5},{"s":"CFSR","m":2,"v":0.5},{"s":"CFSR","m":3,"v":0.4},{"s":"CFSR","m":4,"v":0.3},{"s":"CFSR","m":5,"v":0.4},{"s":"CFSR","m":6,"v":0.8},{"s":"CFSR","m":7,"v":1.5},{"s":"CFSR","m":8,"v":2.0},{"s":"CFSR","m":9,"v":1.7},{"s":"CFSR","m":10,"v":0.7},{"s":"CFSR","m":11,"v":0.4},{"s":"CFSR","m":12,"v":0.6}
],
"Csa":[
{"s":"CRU","m":1,"v":0.8},{"s":"CRU","m":2,"v":0.6},{"s":"CRU","m":3,"v":0.3},{"s":"CRU","m":4,"v":0.2},{"s":"CRU","m":5,"v":0.4},{"s":"CRU","m":6,"v":3.2},{"s":"CRU","m":7,"v":6.4},{"s":"CRU","m":8,"v":6.3},{"s":"CRU","m":9,"v":4.3},{"s":"CRU","m":10,"v":1.6},{"s":"CRU","m":11,"v":0.6},{"s":"CRU","m":12,"v":0.8},
{"s":"TRMM","m":1,"v":1.1},{"s":"TRMM","m":2,"v":0.8},{"s":"TRMM","m":3,"v":0.4},{"s":"TRMM","m":4,"v":0.2},{"s":"TRMM","m":5,"v":0.5},{"s":"TRMM","m":6,"v":3.5},{"s":"TRMM","m":7,"v":6.5},{"s":"TRMM","m":8,"v":6.4},{"s":"TRMM","m":9,"v":4.8},{"s":"TRMM","m":10,"v":2.0},{"s":"TRMM","m":11,"v":0.8},{"s":"TRMM","m":12,"v":1.0},
{"s":"ROM25I","m":1,"v":3.0},{"s":"ROM25I","m":2,"v":2.1},{"s":"ROM25I","m":3,"v":1.3},{"s":"ROM25I","m":4,"v":0.5},{"s":"ROM25I","m":5,"v":0.5},{"s":"ROM25I","m":6,"v":3.5},{"s":"ROM25I","m":7,"v":7.6},{"s":"ROM25I","m":8,"v":7.5},{"s":"ROM25I","m":9,"v":5.0},{"s":"ROM25I","m":10,"v":2.5},{"s":"ROM25I","m":11,"v":2.1},{"s":"ROM25I","m":12,"v":3.5},
{"s":"REMO25I","m":1,"v":1.5},{"s":"REMO25I","m":2,"v":1.0},{"s":"REMO25I","m":3,"v":0.6},{"s":"REMO25I","m":4,"v":0.3},{"s":"REMO25I","m":5,"v":0.5},{"s":"REMO25I","m":6,"v":2.6},{"s":"REMO25I","m":7,"v":6.5},{"s":"REMO25I","m":8,"v":6.3},{"s":"REMO25I","m":9,"v":4.4},{"s":"REMO25I","m":10,"v":1.8},{"s":"REMO25I","m":11,"v":0.9},{"s":"REMO25I","m":12,"v":1.2},
{"s":"ROM50I","m":1,"v":3.1},{"s":"ROM50I","m":2,"v":2.2},{"s":"ROM50I","m":3,"v":1.4},{"s":"ROM50I","m":4,"v":0.6},{"s":"ROM50I","m":5,"v":0.6},{"s":"ROM50I","m":6,"v":3.4},{"s":"ROM50I","m":7,"v":7.0},{"s":"ROM50I","m":8,"v":7.2},{"s":"ROM50I","m":9,"v":5.1},{"s":"ROM50I","m":10,"v":2.5},{"s":"ROM50I","m":11,"v":1.8},{"s":"ROM50I","m":12,"v":3.8},
{"s":"REMO50I","m":1,"v":1.2},{"s":"REMO50I","m":2,"v":0.8},{"s":"REMO50I","m":3,"v":0.5},{"s":"REMO50I","m":4,"v":0.3},{"s":"REMO50I","m":5,"v":0.5},{"s":"REMO50I","m":6,"v":2.8},{"s":"REMO50I","m":7,"v":6.3},{"s":"REMO50I","m":8,"v":6.0},{"s":"REMO50I","m":9,"v":3.5},{"s":"REMO50I","m":10,"v":1.5},{"s":"REMO50I","m":11,"v":1.0},{"s":"REMO50I","m":12,"v":1.5},
{"s":"ROM50M","m":1,"v":4.6},{"s":"ROM50M","m":2,"v":2.8},{"s":"ROM50M","m":3,"v":2.0},{"s":"ROM50M","m":4,"v":0.9},{"s":"ROM50M","m":5,"v":0.8},{"s":"ROM50M","m":6,"v":3.3},{"s":"ROM50M","m":7,"v":7.6},{"s":"ROM50M","m":8,"v":7.3},{"s":"ROM50M","m":9,"v":5.0},{"s":"ROM50M","m":10,"v":2.8},{"s":"ROM50M","m":11,"v":2.6},{"s":"ROM50M","m":12,"v":4.9},
{"s":"REMO50M","m":1,"v":2.7},{"s":"REMO50M","m":2,"v":2.8},{"s":"REMO50M","m":3,"v":2.1},{"s":"REMO50M","m":4,"v":1.0},{"s":"REMO50M","m":5,"v":2.1},{"s":"REMO50M","m":6,"v":4.5},{"s":"REMO50M","m":7,"v":8.2},{"s":"REMO50M","m":8,"v":7.3},{"s":"REMO50M","m":9,"v":5.4},{"s":"REMO50M","m":10,"v":2.6},{"s":"REMO50M","m":11,"v":2.1},{"s":"REMO50M","m":12,"v":2.4},
{"s":"GPCP","m":1,"v":1.0},{"s":"GPCP","m":2,"v":0.7},{"s":"GPCP","m":3,"v":0.4},{"s":"GPCP","m":4,"v":0.2},{"s":"GPCP","m":5,"v":0.4},{"s":"GPCP","m":6,"v":3.3},{"s":"GPCP","m":7,"v":6.1},{"s":"GPCP","m":8,"v":6.0},{"s":"GPCP","m":9,"v":4.5},{"s":"GPCP","m":10,"v":1.8},{"s":"GPCP","m":11,"v":0.7},{"s":"GPCP","m":12,"v":0.9},
{"s":"MPI-ESM","m":1,"v":2.0},{"s":"MPI-ESM","m":2,"v":1.5},{"s":"MPI-ESM","m":3,"v":1.0},{"s":"MPI-ESM","m":4,"v":0.5},{"s":"MPI-ESM","m":5,"v":1.5},{"s":"MPI-ESM","m":6,"v":4.0},{"s":"MPI-ESM","m":7,"v":6.7},{"s":"MPI-ESM","m":8,"v":6.8},{"s":"MPI-ESM","m":9,"v":5.7},{"s":"MPI-ESM","m":10,"v":2.0},{"s":"MPI-ESM","m":11,"v":1.2},{"s":"MPI-ESM","m":12,"v":1.8},
{"s":"CHIRPS","m":1,"v":0.6},{"s":"CHIRPS","m":2,"v":0.5},{"s":"CHIRPS","m":3,"v":0.2},{"s":"CHIRPS","m":4,"v":0.1},{"s":"CHIRPS","m":5,"v":0.3},{"s":"CHIRPS","m":6,"v":3.5},{"s":"CHIRPS","m":7,"v":7.2},{"s":"CHIRPS","m":8,"v":6.8},{"s":"CHIRPS","m":9,"v":4.5},{"s":"CHIRPS","m":10,"v":1.5},{"s":"CHIRPS","m":11,"v":0.5},{"s":"CHIRPS","m":12,"v":0.7},
{"s":"CFSR","m":1,"v":1.0},{"s":"CFSR","m":2,"v":0.7},{"s":"CFSR","m":3,"v":0.3},{"s":"CFSR","m":4,"v":0.2},{"s":"CFSR","m":5,"v":0.4},{"s":"CFSR","m":6,"v":4.5},{"s":"CFSR","m":7,"v":11.2},{"s":"CFSR","m":8,"v":11.0},{"s":"CFSR","m":9,"v":8.0},{"s":"CFSR","m":10,"v":2.3},{"s":"CFSR","m":11,"v":0.9},{"s":"CFSR","m":12,"v":0.9}
],
"Cwb":[
{"s":"CRU","m":1,"v":0.6},{"s":"CRU","m":2,"v":0.5},{"s":"CRU","m":3,"v":0.5},{"s":"CRU","m":4,"v":1.3},{"s":"CRU","m":5,"v":3.8},{"s":"CRU","m":6,"v":6.4},{"s":"CRU","m":7,"v":6.4},{"s":"CRU","m":8,"v":6.5},{"s":"CRU","m":9,"v":6.8},{"s":"CRU","m":10,"v":4.0},{"s":"CRU","m":11,"v":1.0},{"s":"CRU","m":12,"v":0.6},
{"s":"TRMM","m":1,"v":0.8},{"s":"TRMM","m":2,"v":0.7},{"s":"TRMM","m":3,"v":0.7},{"s":"TRMM","m":4,"v":1.6},{"s":"TRMM","m":5,"v":4.0},{"s":"TRMM","m":6,"v":5.5},{"s":"TRMM","m":7,"v":5.1},{"s":"TRMM","m":8,"v":5.6},{"s":"TRMM","m":9,"v":7.3},{"s":"TRMM","m":10,"v":4.2},{"s":"TRMM","m":11,"v":1.2},{"s":"TRMM","m":12,"v":0.9},
{"s":"ROM25I","m":1,"v":0.9},{"s":"ROM25I","m":2,"v":0.8},{"s":"ROM25I","m":3,"v":0.8},{"s":"ROM25I","m":4,"v":1.8},{"s":"ROM25I","m":5,"v":3.8},{"s":"ROM25I","m":6,"v":4.9},{"s":"ROM25I","m":7,"v":4.8},{"s":"ROM25I","m":8,"v":5.2},{"s":"ROM25I","m":9,"v":5.4},{"s":"ROM25I","m":10,"v":3.5},{"s":"ROM25I","m":11,"v":1.0},{"s":"ROM25I","m":12,"v":0.8},
{"s":"REMO25I","m":1,"v":0.9},{"s":"REMO25I","m":2,"v":0.8},{"s":"REMO25I","m":3,"v":0.8},{"s":"REMO25I","m":4,"v":1.5},{"s":"REMO25I","m":5,"v":3.6},{"s":"REMO25I","m":6,"v":6.3},{"s":"REMO25I","m":7,"v":5.7},{"s":"REMO25I","m":8,"v":6.0},{"s":"REMO25I","m":9,"v":6.5},{"s":"REMO25I","m":10,"v":4.0},{"s":"REMO25I","m":11,"v":1.1},{"s":"REMO25I","m":12,"v":0.9},
{"s":"ROM50I","m":1,"v":1.0},{"s":"ROM50I","m":2,"v":0.9},{"s":"ROM50I","m":3,"v":0.9},{"s":"ROM50I","m":4,"v":1.7},{"s":"ROM50I","m":5,"v":4.0},{"s":"ROM50I","m":6,"v":5.3},{"s":"ROM50I","m":7,"v":4.6},{"s":"ROM50I","m":8,"v":5.2},{"s":"ROM50I","m":9,"v":7.5},{"s":"ROM50I","m":10,"v":4.5},{"s":"ROM50I","m":11,"v":1.3},{"s":"ROM50I","m":12,"v":1.0},
{"s":"REMO50I","m":1,"v":1.0},{"s":"REMO50I","m":2,"v":0.9},{"s":"REMO50I","m":3,"v":0.9},{"s":"REMO50I","m":4,"v":1.8},{"s":"REMO50I","m":5,"v":3.8},{"s":"REMO50I","m":6,"v":5.5},{"s":"REMO50I","m":7,"v":6.5},{"s":"REMO50I","m":8,"v":7.0},{"s":"REMO50I","m":9,"v":8.8},{"s":"REMO50I","m":10,"v":5.0},{"s":"REMO50I","m":11,"v":1.3},{"s":"REMO50I","m":12,"v":1.0},
{"s":"ROM50M","m":1,"v":1.3},{"s":"ROM50M","m":2,"v":1.0},{"s":"ROM50M","m":3,"v":1.0},{"s":"ROM50M","m":4,"v":2.0},{"s":"ROM50M","m":5,"v":3.6},{"s":"ROM50M","m":6,"v":5.0},{"s":"ROM50M","m":7,"v":4.1},{"s":"ROM50M","m":8,"v":4.8},{"s":"ROM50M","m":9,"v":5.2},{"s":"ROM50M","m":10,"v":3.0},{"s":"ROM50M","m":11,"v":1.2},{"s":"ROM50M","m":12,"v":0.5},
{"s":"REMO50M","m":1,"v":1.3},{"s":"REMO50M","m":2,"v":1.0},{"s":"REMO50M","m":3,"v":1.5},{"s":"REMO50M","m":4,"v":3.5},{"s":"REMO50M","m":5,"v":7.0},{"s":"REMO50M","m":6,"v":7.7},{"s":"REMO50M","m":7,"v":6.6},{"s":"REMO50M","m":8,"v":9.3},{"s":"REMO50M","m":9,"v":10.9},{"s":"REMO50M","m":10,"v":6.0},{"s":"REMO50M","m":11,"v":2.0},{"s":"REMO50M","m":12,"v":0.7},
{"s":"GPCP","m":1,"v":1.1},{"s":"GPCP","m":2,"v":0.9},{"s":"GPCP","m":3,"v":0.9},{"s":"GPCP","m":4,"v":1.5},{"s":"GPCP","m":5,"v":4.0},{"s":"GPCP","m":6,"v":7.0},{"s":"GPCP","m":7,"v":7.5},{"s":"GPCP","m":8,"v":7.5},{"s":"GPCP","m":9,"v":8.1},{"s":"GPCP","m":10,"v":5.0},{"s":"GPCP","m":11,"v":1.3},{"s":"GPCP","m":12,"v":1.0},
{"s":"MPI-ESM","m":1,"v":1.0},{"s":"MPI-ESM","m":2,"v":0.8},{"s":"MPI-ESM","m":3,"v":0.7},{"s":"MPI-ESM","m":4,"v":2.2},{"s":"MPI-ESM","m":5,"v":4.5},{"s":"MPI-ESM","m":6,"v":6.5},{"s":"MPI-ESM","m":7,"v":6.4},{"s":"MPI-ESM","m":8,"v":6.5},{"s":"MPI-ESM","m":9,"v":6.0},{"s":"MPI-ESM","m":10,"v":3.5},{"s":"MPI-ESM","m":11,"v":1.2},{"s":"MPI-ESM","m":12,"v":0.8},
{"s":"CHIRPS","m":1,"v":0.3},{"s":"CHIRPS","m":2,"v":0.3},{"s":"CHIRPS","m":3,"v":0.3},{"s":"CHIRPS","m":4,"v":1.0},{"s":"CHIRPS","m":5,"v":3.5},{"s":"CHIRPS","m":6,"v":6.1},{"s":"CHIRPS","m":7,"v":6.1},{"s":"CHIRPS","m":8,"v":6.1},{"s":"CHIRPS","m":9,"v":6.2},{"s":"CHIRPS","m":10,"v":3.5},{"s":"CHIRPS","m":11,"v":0.8},{"s":"CHIRPS","m":12,"v":0.3},
{"s":"CFSR","m":1,"v":0.7},{"s":"CFSR","m":2,"v":0.7},{"s":"CFSR","m":3,"v":0.7},{"s":"CFSR","m":4,"v":2.0},{"s":"CFSR","m":5,"v":5.0},{"s":"CFSR","m":6,"v":10.6},{"s":"CFSR","m":7,"v":10.3},{"s":"CFSR","m":8,"v":10.4},{"s":"CFSR","m":9,"v":10.9},{"s":"CFSR","m":10,"v":6.0},{"s":"CFSR","m":11,"v":1.5},{"s":"CFSR","m":12,"v":0.8}
]
},
"spacing":16,
"vconcat":[
{"spacing":13,"hconcat":[
{"width":203,"height":184,"data":{"name":"Af"},"resolve":{"axis":{"x":"independent","y":"independent"}},"layer":[
 {"mark":{"type":"line"},"encoding":{
  "x":{"field":"m","type":"quantitative","scale":{"domain":[0.05,12.95],"nice":false,"zero":false},"axis":{"orient":"bottom","values":[1,2,3,4,5,6,7,8,9,10,11,12],"tickSize":-5,"labels":false,"title":null}},
  "y":{"field":"v","type":"quantitative","scale":{"domain":[-0.13,18.16],"nice":false,"zero":false},"axis":{"orient":"left","values":[0,1,2,3,4,5,6,7,8,9,10,11,12,13,14,15,16,17,18],"tickSize":{"condition":{"test":"datum.value % 4 == 0","value":-6},"value":-3},"labelExpr":"datum.value % 4 == 0 && datum.value <= 16 ? datum.label : ''","labelPadding":14,"title":"Prec (mm/d)","titlePadding":8}},
  "color":{"field":"s","type":"nominal","scale":{"domain":["MPI-ESM","CHIRPS","CFSR","GPCP","CRU","TRMM","ROM25I","REMO25I","ROM50I","REMO50I","ROM50M","REMO50M"],"range":["#e633e6","#f5a83a","#000000","#8c2020","#bdbdbd","#b54a42","#2e2ed0","#6464d8","#d63a3a","#e08585","#5fd85f","#5fd85f"]},"legend":{"title":null,"orient":"none","legendX":177,"legendY":682,"columns":3,"symbolType":"stroke","symbolSize":2600,"labelFont":"DejaVu Sans","labelFontSize":13,"labelColor":"#111","labelOffset":30,"columnPadding":10,"rowPadding":1.3,"encode":{"symbols":{"update":{"strokeDash":{"signal":"indexof(['REMO25I','REMO50I','REMO50M'], datum.value) >= 0 ? [5,3] : [1,0]"},"strokeWidth":{"signal":"indexof(['MPI-ESM','CHIRPS','CFSR','GPCP'], datum.value) >= 0 ? 2 : 1.6"}}}}}},
  "strokeDash":{"condition":{"test":"indexof(['REMO25I','REMO50I','REMO50M'], datum.s) >= 0","value":[5,3]},"value":[1,0]},
  "strokeWidth":{"condition":[{"test":"datum.s == 'CHIRPS'","value":2.5},{"test":"indexof(['MPI-ESM','CFSR','GPCP'], datum.s) >= 0","value":2}],"value":1.3}
 }},
 {"mark":{"type":"line","opacity":0},"encoding":{
  "x":{"field":"m","type":"quantitative","scale":{"domain":[0.05,12.95],"nice":false,"zero":false},"axis":{"orient":"top","values":[1,2,3,4,5,6,7,8,9,10,11,12],"tickSize":-5,"labels":false,"title":"Af","titleX":89,"titleY":-13,"titleAlign":"left","titleBaseline":"middle","titleFontSize":14.5}},
  "y":{"field":"v","type":"quantitative","scale":{"domain":[-0.13,18.16],"nice":false,"zero":false},"axis":{"orient":"right","values":[0,1,2,3,4,5,6,7,8,9,10,11,12,13,14,15,16,17,18],"tickSize":{"condition":{"test":"datum.value % 4 == 0","value":-6},"value":-3},"labels":false,"title":"(a)","titleAngle":0,"titleX":-119,"titleY":-13,"titleAlign":"right","titleBaseline":"middle","titleFont":"Liberation Serif","titleFontWeight":"bold","titleFontSize":15}}
 }}
]},
{"width":203,"height":184,"data":{"name":"Am"},"resolve":{"axis":{"x":"independent","y":"independent"}},"layer":[
 {"mark":{"type":"line"},"encoding":{
  "x":{"field":"m","type":"quantitative","scale":{"domain":[0.05,12.95],"nice":false,"zero":false},"axis":{"orient":"bottom","values":[1,2,3,4,5,6,7,8,9,10,11,12],"tickSize":-5,"labels":false,"title":null}},
  "y":{"field":"v","type":"quantitative","scale":{"domain":[-0.13,18.16],"nice":false,"zero":false},"axis":{"orient":"left","values":[0,1,2,3,4,5,6,7,8,9,10,11,12,13,14,15,16,17,18],"tickSize":{"condition":{"test":"datum.value % 4 == 0","value":-6},"value":-3},"labels":false,"title":null}},
  "color":{"field":"s","type":"nominal","scale":{"domain":["MPI-ESM","CHIRPS","CFSR","GPCP","CRU","TRMM","ROM25I","REMO25I","ROM50I","REMO50I","ROM50M","REMO50M"],"range":["#e633e6","#f5a83a","#000000","#8c2020","#bdbdbd","#b54a42","#2e2ed0","#6464d8","#d63a3a","#e08585","#5fd85f","#5fd85f"]},"legend":null},
  "strokeDash":{"condition":{"test":"indexof(['REMO25I','REMO50I','REMO50M'], datum.s) >= 0","value":[5,3]},"value":[1,0]},
  "strokeWidth":{"condition":[{"test":"datum.s == 'CHIRPS'","value":2.5},{"test":"indexof(['MPI-ESM','CFSR','GPCP'], datum.s) >= 0","value":2}],"value":1.3}
 }},
 {"mark":{"type":"line","opacity":0},"encoding":{
  "x":{"field":"m","type":"quantitative","scale":{"domain":[0.05,12.95],"nice":false,"zero":false},"axis":{"orient":"top","values":[1,2,3,4,5,6,7,8,9,10,11,12],"tickSize":-5,"labels":false,"title":"Am","titleX":89,"titleY":-13,"titleAlign":"left","titleBaseline":"middle","titleFontSize":14.5}},
  "y":{"field":"v","type":"quantitative","scale":{"domain":[-0.13,18.16],"nice":false,"zero":false},"axis":{"orient":"right","values":[0,1,2,3,4,5,6,7,8,9,10,11,12,13,14,15,16,17,18],"tickSize":{"condition":{"test":"datum.value % 4 == 0","value":-6},"value":-3},"labels":false,"title":"(b)","titleAngle":0,"titleX":-119,"titleY":-13,"titleAlign":"right","titleBaseline":"middle","titleFont":"Liberation Serif","titleFontWeight":"bold","titleFontSize":15}}
 }}
]},
{"width":203,"height":184,"data":{"name":"As"},"resolve":{"axis":{"x":"independent","y":"independent"}},"layer":[
 {"mark":{"type":"line"},"encoding":{
  "x":{"field":"m","type":"quantitative","scale":{"domain":[0.05,12.95],"nice":false,"zero":false},"axis":{"orient":"bottom","values":[1,2,3,4,5,6,7,8,9,10,11,12],"tickSize":-5,"labels":false,"title":null}},
  "y":{"field":"v","type":"quantitative","scale":{"domain":[-0.13,18.16],"nice":false,"zero":false},"axis":{"orient":"left","values":[0,1,2,3,4,5,6,7,8,9,10,11,12,13,14,15,16,17,18],"tickSize":{"condition":{"test":"datum.value % 4 == 0","value":-6},"value":-3},"labels":false,"title":null}},
  "color":{"field":"s","type":"nominal","scale":{"domain":["MPI-ESM","CHIRPS","CFSR","GPCP","CRU","TRMM","ROM25I","REMO25I","ROM50I","REMO50I","ROM50M","REMO50M"],"range":["#e633e6","#f5a83a","#000000","#8c2020","#bdbdbd","#b54a42","#2e2ed0","#6464d8","#d63a3a","#e08585","#5fd85f","#5fd85f"]},"legend":null},
  "strokeDash":{"condition":{"test":"indexof(['REMO25I','REMO50I','REMO50M'], datum.s) >= 0","value":[5,3]},"value":[1,0]},
  "strokeWidth":{"condition":[{"test":"datum.s == 'CHIRPS'","value":2.5},{"test":"indexof(['MPI-ESM','CFSR','GPCP'], datum.s) >= 0","value":2}],"value":1.3}
 }},
 {"mark":{"type":"line","opacity":0},"encoding":{
  "x":{"field":"m","type":"quantitative","scale":{"domain":[0.05,12.95],"nice":false,"zero":false},"axis":{"orient":"top","values":[1,2,3,4,5,6,7,8,9,10,11,12],"tickSize":-5,"labels":false,"title":"As","titleX":89,"titleY":-13,"titleAlign":"left","titleBaseline":"middle","titleFontSize":14.5}},
  "y":{"field":"v","type":"quantitative","scale":{"domain":[-0.13,18.16],"nice":false,"zero":false},"axis":{"orient":"right","values":[0,1,2,3,4,5,6,7,8,9,10,11,12,13,14,15,16,17,18],"tickSize":{"condition":{"test":"datum.value % 4 == 0","value":-6},"value":-3},"labels":false,"title":"(c)","titleAngle":0,"titleX":-119,"titleY":-13,"titleAlign":"right","titleBaseline":"middle","titleFont":"Liberation Serif","titleFontWeight":"bold","titleFontSize":15}}
 }}
]}
]},
{"spacing":13,"hconcat":[
{"width":203,"height":184,"data":{"name":"Aw"},"resolve":{"axis":{"x":"independent","y":"independent"}},"layer":[
 {"mark":{"type":"line"},"encoding":{
  "x":{"field":"m","type":"quantitative","scale":{"domain":[0.05,12.95],"nice":false,"zero":false},"axis":{"orient":"bottom","values":[1,2,3,4,5,6,7,8,9,10,11,12],"tickSize":-5,"labels":false,"title":null}},
  "y":{"field":"v","type":"quantitative","scale":{"domain":[-0.13,18.16],"nice":false,"zero":false},"axis":{"orient":"left","values":[0,1,2,3,4,5,6,7,8,9,10,11,12,13,14,15,16,17,18],"tickSize":{"condition":{"test":"datum.value % 4 == 0","value":-6},"value":-3},"labelExpr":"datum.value % 4 == 0 && datum.value <= 16 ? datum.label : ''","labelPadding":14,"title":"Prec (mm/d)","titlePadding":8}},
  "color":{"field":"s","type":"nominal","scale":{"domain":["MPI-ESM","CHIRPS","CFSR","GPCP","CRU","TRMM","ROM25I","REMO25I","ROM50I","REMO50I","ROM50M","REMO50M"],"range":["#e633e6","#f5a83a","#000000","#8c2020","#bdbdbd","#b54a42","#2e2ed0","#6464d8","#d63a3a","#e08585","#5fd85f","#5fd85f"]},"legend":null},
  "strokeDash":{"condition":{"test":"indexof(['REMO25I','REMO50I','REMO50M'], datum.s) >= 0","value":[5,3]},"value":[1,0]},
  "strokeWidth":{"condition":[{"test":"datum.s == 'CHIRPS'","value":2.5},{"test":"indexof(['MPI-ESM','CFSR','GPCP'], datum.s) >= 0","value":2}],"value":1.3}
 }},
 {"mark":{"type":"line","opacity":0},"encoding":{
  "x":{"field":"m","type":"quantitative","scale":{"domain":[0.05,12.95],"nice":false,"zero":false},"axis":{"orient":"top","values":[1,2,3,4,5,6,7,8,9,10,11,12],"tickSize":-5,"labels":false,"title":"Aw","titleX":89,"titleY":-13,"titleAlign":"left","titleBaseline":"middle","titleFontSize":14.5}},
  "y":{"field":"v","type":"quantitative","scale":{"domain":[-0.13,18.16],"nice":false,"zero":false},"axis":{"orient":"right","values":[0,1,2,3,4,5,6,7,8,9,10,11,12,13,14,15,16,17,18],"tickSize":{"condition":{"test":"datum.value % 4 == 0","value":-6},"value":-3},"labels":false,"title":"(d)","titleAngle":0,"titleX":-119,"titleY":-13,"titleAlign":"right","titleBaseline":"middle","titleFont":"Liberation Serif","titleFontWeight":"bold","titleFontSize":15}}
 }}
]},
{"width":203,"height":184,"data":{"name":"BSh"},"resolve":{"axis":{"x":"independent","y":"independent"}},"layer":[
 {"mark":{"type":"line"},"encoding":{
  "x":{"field":"m","type":"quantitative","scale":{"domain":[0.05,12.95],"nice":false,"zero":false},"axis":{"orient":"bottom","values":[1,2,3,4,5,6,7,8,9,10,11,12],"tickSize":-5,"labels":false,"title":null}},
  "y":{"field":"v","type":"quantitative","scale":{"domain":[-0.13,18.16],"nice":false,"zero":false},"axis":{"orient":"left","values":[0,1,2,3,4,5,6,7,8,9,10,11,12,13,14,15,16,17,18],"tickSize":{"condition":{"test":"datum.value % 4 == 0","value":-6},"value":-3},"labels":false,"title":null}},
  "color":{"field":"s","type":"nominal","scale":{"domain":["MPI-ESM","CHIRPS","CFSR","GPCP","CRU","TRMM","ROM25I","REMO25I","ROM50I","REMO50I","ROM50M","REMO50M"],"range":["#e633e6","#f5a83a","#000000","#8c2020","#bdbdbd","#b54a42","#2e2ed0","#6464d8","#d63a3a","#e08585","#5fd85f","#5fd85f"]},"legend":null},
  "strokeDash":{"condition":{"test":"indexof(['REMO25I','REMO50I','REMO50M'], datum.s) >= 0","value":[5,3]},"value":[1,0]},
  "strokeWidth":{"condition":[{"test":"datum.s == 'CHIRPS'","value":2.5},{"test":"indexof(['MPI-ESM','CFSR','GPCP'], datum.s) >= 0","value":2}],"value":1.3}
 }},
 {"mark":{"type":"line","opacity":0},"encoding":{
  "x":{"field":"m","type":"quantitative","scale":{"domain":[0.05,12.95],"nice":false,"zero":false},"axis":{"orient":"top","values":[1,2,3,4,5,6,7,8,9,10,11,12],"tickSize":-5,"labels":false,"title":"BSh","titleX":89,"titleY":-13,"titleAlign":"left","titleBaseline":"middle","titleFontSize":14.5}},
  "y":{"field":"v","type":"quantitative","scale":{"domain":[-0.13,18.16],"nice":false,"zero":false},"axis":{"orient":"right","values":[0,1,2,3,4,5,6,7,8,9,10,11,12,13,14,15,16,17,18],"tickSize":{"condition":{"test":"datum.value % 4 == 0","value":-6},"value":-3},"labels":false,"title":"(e)","titleAngle":0,"titleX":-119,"titleY":-13,"titleAlign":"right","titleBaseline":"middle","titleFont":"Liberation Serif","titleFontWeight":"bold","titleFontSize":15}}
 }}
]},
{"width":203,"height":184,"data":{"name":"BSk"},"resolve":{"axis":{"x":"independent","y":"independent"}},"layer":[
 {"mark":{"type":"line"},"encoding":{
  "x":{"field":"m","type":"quantitative","scale":{"domain":[0.05,12.95],"nice":false,"zero":false},"axis":{"orient":"bottom","values":[1,2,3,4,5,6,7,8,9,10,11,12],"tickSize":-5,"labels":false,"title":null}},
  "y":{"field":"v","type":"quantitative","scale":{"domain":[-0.13,18.16],"nice":false,"zero":false},"axis":{"orient":"left","values":[0,1,2,3,4,5,6,7,8,9,10,11,12,13,14,15,16,17,18],"tickSize":{"condition":{"test":"datum.value % 4 == 0","value":-6},"value":-3},"labels":false,"title":null}},
  "color":{"field":"s","type":"nominal","scale":{"domain":["MPI-ESM","CHIRPS","CFSR","GPCP","CRU","TRMM","ROM25I","REMO25I","ROM50I","REMO50I","ROM50M","REMO50M"],"range":["#e633e6","#f5a83a","#000000","#8c2020","#bdbdbd","#b54a42","#2e2ed0","#6464d8","#d63a3a","#e08585","#5fd85f","#5fd85f"]},"legend":null},
  "strokeDash":{"condition":{"test":"indexof(['REMO25I','REMO50I','REMO50M'], datum.s) >= 0","value":[5,3]},"value":[1,0]},
  "strokeWidth":{"condition":[{"test":"datum.s == 'CHIRPS'","value":2.5},{"test":"indexof(['MPI-ESM','CFSR','GPCP'], datum.s) >= 0","value":2}],"value":1.3}
 }},
 {"mark":{"type":"line","opacity":0},"encoding":{
  "x":{"field":"m","type":"quantitative","scale":{"domain":[0.05,12.95],"nice":false,"zero":false},"axis":{"orient":"top","values":[1,2,3,4,5,6,7,8,9,10,11,12],"tickSize":-5,"labels":false,"title":"BSk","titleX":89,"titleY":-13,"titleAlign":"left","titleBaseline":"middle","titleFontSize":14.5}},
  "y":{"field":"v","type":"quantitative","scale":{"domain":[-0.13,18.16],"nice":false,"zero":false},"axis":{"orient":"right","values":[0,1,2,3,4,5,6,7,8,9,10,11,12,13,14,15,16,17,18],"tickSize":{"condition":{"test":"datum.value % 4 == 0","value":-6},"value":-3},"labels":false,"title":"(f)","titleAngle":0,"titleX":-119,"titleY":-13,"titleAlign":"right","titleBaseline":"middle","titleFont":"Liberation Serif","titleFontWeight":"bold","titleFontSize":15}}
 }}
]}
]},
{"spacing":13,"hconcat":[
{"width":203,"height":184,"data":{"name":"BWh"},"resolve":{"axis":{"x":"independent","y":"independent"}},"layer":[
 {"mark":{"type":"line"},"encoding":{
  "x":{"field":"m","type":"quantitative","scale":{"domain":[0.05,12.95],"nice":false,"zero":false},"axis":{"orient":"bottom","values":[1,2,3,4,5,6,7,8,9,10,11,12],"tickSize":-5,"labelExpr":"['J','F','M','A','M','J','J','A','S','O','N','D'][datum.value-1]","labelPadding":8,"title":"Time","titleFontSize":13,"titlePadding":7}},
  "y":{"field":"v","type":"quantitative","scale":{"domain":[-0.13,18.16],"nice":false,"zero":false},"axis":{"orient":"left","values":[0,1,2,3,4,5,6,7,8,9,10,11,12,13,14,15,16,17,18],"tickSize":{"condition":{"test":"datum.value % 4 == 0","value":-6},"value":-3},"labelExpr":"datum.value % 4 == 0 && datum.value <= 16 ? datum.label : ''","labelPadding":14,"title":"Prec (mm/d)","titlePadding":8}},
  "color":{"field":"s","type":"nominal","scale":{"domain":["MPI-ESM","CHIRPS","CFSR","GPCP","CRU","TRMM","ROM25I","REMO25I","ROM50I","REMO50I","ROM50M","REMO50M"],"range":["#e633e6","#f5a83a","#000000","#8c2020","#bdbdbd","#b54a42","#2e2ed0","#6464d8","#d63a3a","#e08585","#5fd85f","#5fd85f"]},"legend":null},
  "strokeDash":{"condition":{"test":"indexof(['REMO25I','REMO50I','REMO50M'], datum.s) >= 0","value":[5,3]},"value":[1,0]},
  "strokeWidth":{"condition":[{"test":"datum.s == 'CHIRPS'","value":2.5},{"test":"indexof(['MPI-ESM','CFSR','GPCP'], datum.s) >= 0","value":2}],"value":1.3}
 }},
 {"mark":{"type":"line","opacity":0},"encoding":{
  "x":{"field":"m","type":"quantitative","scale":{"domain":[0.05,12.95],"nice":false,"zero":false},"axis":{"orient":"top","values":[1,2,3,4,5,6,7,8,9,10,11,12],"tickSize":-5,"labels":false,"title":"BWh","titleX":89,"titleY":-13,"titleAlign":"left","titleBaseline":"middle","titleFontSize":14.5}},
  "y":{"field":"v","type":"quantitative","scale":{"domain":[-0.13,18.16],"nice":false,"zero":false},"axis":{"orient":"right","values":[0,1,2,3,4,5,6,7,8,9,10,11,12,13,14,15,16,17,18],"tickSize":{"condition":{"test":"datum.value % 4 == 0","value":-6},"value":-3},"labels":false,"title":"(g)","titleAngle":0,"titleX":-119,"titleY":-13,"titleAlign":"right","titleBaseline":"middle","titleFont":"Liberation Serif","titleFontWeight":"bold","titleFontSize":15}}
 }}
]},
{"width":203,"height":184,"data":{"name":"Csa"},"resolve":{"axis":{"x":"independent","y":"independent"}},"layer":[
 {"mark":{"type":"line"},"encoding":{
  "x":{"field":"m","type":"quantitative","scale":{"domain":[0.05,12.95],"nice":false,"zero":false},"axis":{"orient":"bottom","values":[1,2,3,4,5,6,7,8,9,10,11,12],"tickSize":-5,"labelExpr":"['J','F','M','A','M','J','J','A','S','O','N','D'][datum.value-1]","labelPadding":8,"title":"Time","titleFontSize":13,"titlePadding":7}},
  "y":{"field":"v","type":"quantitative","scale":{"domain":[-0.13,18.16],"nice":false,"zero":false},"axis":{"orient":"left","values":[0,1,2,3,4,5,6,7,8,9,10,11,12,13,14,15,16,17,18],"tickSize":{"condition":{"test":"datum.value % 4 == 0","value":-6},"value":-3},"labels":false,"title":null}},
  "color":{"field":"s","type":"nominal","scale":{"domain":["MPI-ESM","CHIRPS","CFSR","GPCP","CRU","TRMM","ROM25I","REMO25I","ROM50I","REMO50I","ROM50M","REMO50M"],"range":["#e633e6","#f5a83a","#000000","#8c2020","#bdbdbd","#b54a42","#2e2ed0","#6464d8","#d63a3a","#e08585","#5fd85f","#5fd85f"]},"legend":null},
  "strokeDash":{"condition":{"test":"indexof(['REMO25I','REMO50I','REMO50M'], datum.s) >= 0","value":[5,3]},"value":[1,0]},
  "strokeWidth":{"condition":[{"test":"datum.s == 'CHIRPS'","value":2.5},{"test":"indexof(['MPI-ESM','CFSR','GPCP'], datum.s) >= 0","value":2}],"value":1.3}
 }},
 {"mark":{"type":"line","opacity":0},"encoding":{
  "x":{"field":"m","type":"quantitative","scale":{"domain":[0.05,12.95],"nice":false,"zero":false},"axis":{"orient":"top","values":[1,2,3,4,5,6,7,8,9,10,11,12],"tickSize":-5,"labels":false,"title":"Csa","titleX":89,"titleY":-13,"titleAlign":"left","titleBaseline":"middle","titleFontSize":14.5}},
  "y":{"field":"v","type":"quantitative","scale":{"domain":[-0.13,18.16],"nice":false,"zero":false},"axis":{"orient":"right","values":[0,1,2,3,4,5,6,7,8,9,10,11,12,13,14,15,16,17,18],"tickSize":{"condition":{"test":"datum.value % 4 == 0","value":-6},"value":-3},"labels":false,"title":"(h)","titleAngle":0,"titleX":-119,"titleY":-13,"titleAlign":"right","titleBaseline":"middle","titleFont":"Liberation Serif","titleFontWeight":"bold","titleFontSize":15}}
 }}
]},
{"width":203,"height":184,"data":{"name":"Cwb"},"resolve":{"axis":{"x":"independent","y":"independent"}},"layer":[
 {"mark":{"type":"line"},"encoding":{
  "x":{"field":"m","type":"quantitative","scale":{"domain":[0.05,12.95],"nice":false,"zero":false},"axis":{"orient":"bottom","values":[1,2,3,4,5,6,7,8,9,10,11,12],"tickSize":-5,"labelExpr":"['J','F','M','A','M','J','J','A','S','O','N','D'][datum.value-1]","labelPadding":8,"title":"Time","titleFontSize":13,"titlePadding":7}},
  "y":{"field":"v","type":"quantitative","scale":{"domain":[-0.13,18.16],"nice":false,"zero":false},"axis":{"orient":"left","values":[0,1,2,3,4,5,6,7,8,9,10,11,12,13,14,15,16,17,18],"tickSize":{"condition":{"test":"datum.value % 4 == 0","value":-6},"value":-3},"labels":false,"title":null}},
  "color":{"field":"s","type":"nominal","scale":{"domain":["MPI-ESM","CHIRPS","CFSR","GPCP","CRU","TRMM","ROM25I","REMO25I","ROM50I","REMO50I","ROM50M","REMO50M"],"range":["#e633e6","#f5a83a","#000000","#8c2020","#bdbdbd","#b54a42","#2e2ed0","#6464d8","#d63a3a","#e08585","#5fd85f","#5fd85f"]},"legend":null},
  "strokeDash":{"condition":{"test":"indexof(['REMO25I','REMO50I','REMO50M'], datum.s) >= 0","value":[5,3]},"value":[1,0]},
  "strokeWidth":{"condition":[{"test":"datum.s == 'CHIRPS'","value":2.5},{"test":"indexof(['MPI-ESM','CFSR','GPCP'], datum.s) >= 0","value":2}],"value":1.3}
 }},
 {"mark":{"type":"line","opacity":0},"encoding":{
  "x":{"field":"m","type":"quantitative","scale":{"domain":[0.05,12.95],"nice":false,"zero":false},"axis":{"orient":"top","values":[1,2,3,4,5,6,7,8,9,10,11,12],"tickSize":-5,"labels":false,"title":"Cwb","titleX":89,"titleY":-13,"titleAlign":"left","titleBaseline":"middle","titleFontSize":14.5}},
  "y":{"field":"v","type":"quantitative","scale":{"domain":[-0.13,18.16],"nice":false,"zero":false},"axis":{"orient":"right","values":[0,1,2,3,4,5,6,7,8,9,10,11,12,13,14,15,16,17,18],"tickSize":{"condition":{"test":"datum.value % 4 == 0","value":-6},"value":-3},"labels":false,"title":"(i)","titleAngle":0,"titleX":-119,"titleY":-13,"titleAlign":"right","titleBaseline":"middle","titleFont":"Liberation Serif","titleFontWeight":"bold","titleFontSize":15}}
 }}
]}
]}
]
}
